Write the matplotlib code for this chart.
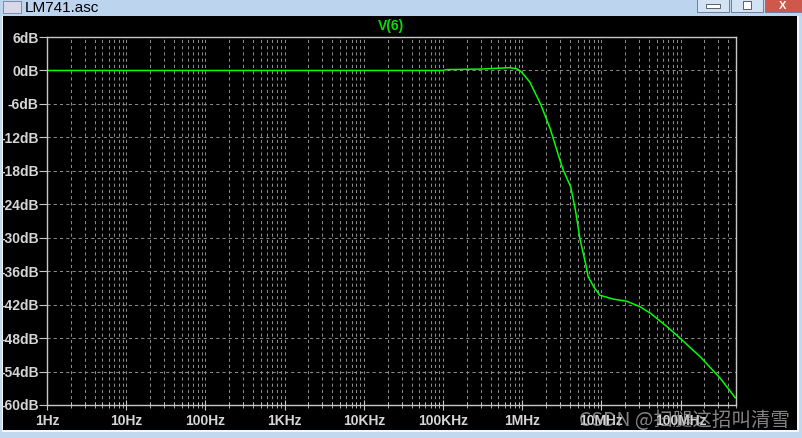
import numpy as np
import matplotlib.pyplot as plt
from matplotlib.patches import Rectangle
from matplotlib.ticker import FixedLocator, LogLocator, NullFormatter

# Частотна характеристика V(6)
freq_hz = [1, 1e5, 1.1e5, 3e5, 5e5, 7e5, 8.5e5, 9.5e5, 1.05e6, 1.25e6,
           1.7e6, 2.25e6, 2.95e6, 3.3e6, 4.1e6, 4.7e6, 5.4e6, 6.3e6, 6.8e6,
           8.0e6, 9.5e6, 1.4e7, 2.1e7, 3.1e7, 4.2e7, 6.8e7, 9.8e7, 1.78e8,
           3.16e8, 4.9e8]
gain_db = [0, 0, 0.15, 0.25, 0.4, 0.5, 0.3, -0.1, -0.8, -2.1,
           -6.0, -10.4, -15.8, -17.9, -20.9, -25.1, -30.5, -34.6, -37.0,
           -38.8, -40.3, -41.0, -41.4, -42.4, -43.6, -46.0, -48.0, -51.4,
           -55.2, -58.7]

x_ticks = [1, 10, 100, 1e3, 1e4, 1e5, 1e6, 1e7, 1e8]
x_labels = ["1Hz", "10Hz", "100Hz", "1KHz", "10KHz", "100KHz", "1MHz", "10MHz", "100MHz"]
y_ticks = list(range(6, -61, -6))
y_labels = [f"{v}dB" for v in y_ticks]

W, H = 803, 438
fig = plt.figure(figsize=(W / 100, H / 100), dpi=100)
fig.patch.set_facecolor("#c2d8ef")

def px(x, y, w, h):
    # прямокутник у пікселях (від верхнього лівого кута)
    return (x / W, 1 - (y + h) / H), w / W, h / H

def rect(x, y, w, h, **kw):
    (x0, y0), w0, h0 = px(x, y, w, h)
    fig.patches.append(Rectangle((x0, y0), w0, h0, transform=fig.transFigure,
                                 zorder=kw.pop("zorder", -10), **kw))

# заголовок вікна
rect(0, 0, W, 16, facecolor="#bcd4ee", edgecolor="none")
fig.text(25 / W, 1 - 8 / H, "LM741.asc", fontsize=11, va="center", ha="left",
         family="Liberation Sans", color="black")
rect(3, 1, 18, 12, facecolor="#d8d8e8", edgecolor="#7080a0", lw=0.6)
for bx, bw, fc in [(697, 32, "#d4e3f3"), (731, 32, "#d4e3f3"), (765, 36, "#d0584a")]:
    rect(bx, -2, bw, 14, facecolor=fc, edgecolor="#6d7f99", lw=0.7)
rect(706, 4, 14, 4, facecolor="white", edgecolor="#404a5a", lw=0.6, zorder=-5)
rect(743, 1, 8, 8, facecolor="white", edgecolor="#404a5a", lw=0.6, zorder=-5)
fig.text(783 / W, 1 - 6 / H, "X", fontsize=8, fontweight="bold", color="white",
         ha="center", va="center", family="Liberation Sans")

# чорна область вікна
rect(2, 16, 797, 416, facecolor="#f4f8fc", edgecolor="none")
rect(3, 16, 794, 414, facecolor="black", edgecolor="none")

(ax_l, ax_b), ax_w, ax_h = px(47, 37, 689, 368)
ax = fig.add_axes([ax_l, ax_b, ax_w, ax_h])
ax.set_facecolor("black")
ax.set_xscale("log")
ax.set_xlim(1, 5e8)
ax.set_ylim(-60, 6)

grid_kw = dict(color="#8a8a8a", lw=0.75, dashes=(3, 3))
ax.xaxis.set_major_locator(FixedLocator(x_ticks))
ax.xaxis.set_minor_locator(LogLocator(base=10, subs=np.arange(2, 10), numticks=20))
ax.xaxis.set_minor_formatter(NullFormatter())
ax.set_xticks(x_ticks, x_labels)
ax.set_yticks(y_ticks, y_labels)
ax.grid(True, which="both", axis="x", **grid_kw)
ax.grid(True, which="major", axis="y", **grid_kw)

for s in ax.spines.values():
    s.set_color("#c8c8c8")
    s.set_linewidth(1)
ax.tick_params(axis="both", which="both", colors="#c8c8c8", labelcolor="#d6d6d6",
               labelsize=10)
ax.tick_params(axis="x", which="major", direction="inout", length=7, pad=3)
ax.tick_params(axis="x", which="minor", direction="inout", length=5)
ax.tick_params(axis="y", which="major", direction="out", length=6, pad=0)
for lab in ax.get_xticklabels() + ax.get_yticklabels():
    lab.set_family("Liberation Sans")
    lab.set_fontweight("bold")

ax.plot(freq_hz, gain_db, color="#00ff00", lw=1.1)

fig.text(391 / W, 1 - 26 / H, "V(6)", color="#00e000", fontsize=10, fontweight="bold",
         ha="center", va="center", family="Liberation Sans")

# водяний знак
fig.text(790 / W, 1 - 421 / H, "CSDN @扫腿这招叫清雪", color="#b0b0b0", alpha=0.75,
         fontsize=14, ha="right", va="center",
         family=["Noto Sans CJK SC", "DejaVu Sans"])

fig.savefig("out.png", dpi=100, facecolor=fig.get_facecolor())
